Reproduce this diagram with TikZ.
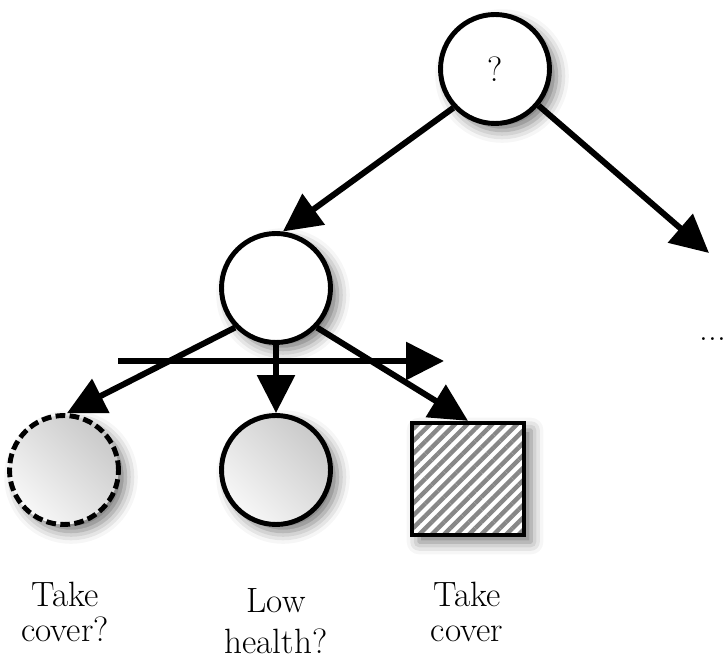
\documentclass[tikz,border=0pt]{standalone}
\usepackage{tikz}
\usetikzlibrary{arrows.meta,shadows.blur,patterns.meta}

\tikzset{
  dnode/.style={draw, line width=2.8pt, inner sep=0pt,
    blur shadow={shadow xshift=4pt, shadow yshift=-4pt, shadow blur radius=7pt, shadow opacity=55}},
  chance/.style={dnode, circle, minimum size=2.18cm, fill=white, font=\fontsize{20}{20}\selectfont},
  leaf/.style={dnode, circle, minimum size=2.18cm, left color=gray!6, right color=gray!42, shading angle=135},
  action/.style={dnode, rectangle, minimum size=2.24cm, preaction={fill=white},
    pattern={Lines[angle=45,distance=5pt,line width=2.5pt]}, pattern color=black!47},
  edge/.style={line width=3.4pt, -{Triangle[length=0.76cm,width=0.74cm]}},
  caption/.style={align=center, inner sep=0pt, font=\fontsize{20}{20}\selectfont}
}

\begin{document}
\begin{tikzpicture}[x=0.02cm,y=-0.02cm]
\useasboundingbox (0,0) rectangle (727,668);
\node [chance] (top) at (495,69) {?};
\node [chance] (mid) at (276,288) {};
\node [leaf, dash pattern=on 5.5pt off 2.5pt] (guess) at (64,470) {};
\node [leaf] (health) at (276,470) {};
\node [action] (cover) at (468,479) {};
\coordinate (more) at (709,253);
\node [anchor=base, inner sep=0pt, font=\fontsize{20}{20}\selectfont] (dots) at (713,341) {...};
\coordinate (cutL) at (118,361);
\coordinate (cutR) at (444,361);
\draw [edge] (top.223) -- (mid.83);
\draw [edge] (top.-40) -- (more);
\draw [edge] (mid.224) -- (guess.87);
\draw [edge] (mid.south) -- (health.north);
\draw [edge] (mid.-44) -- (cover.north);
\draw [edge] (cutL) -- (cutR);
\node [caption] (guessLbl) at (65,612) {Take\\cover?};
\node [caption] (healthLbl) at (276,621) {Low\\[3pt]health?};
\node [caption] (coverLbl) at (467,612) {Take\\cover};
\end{tikzpicture}
\end{document}
